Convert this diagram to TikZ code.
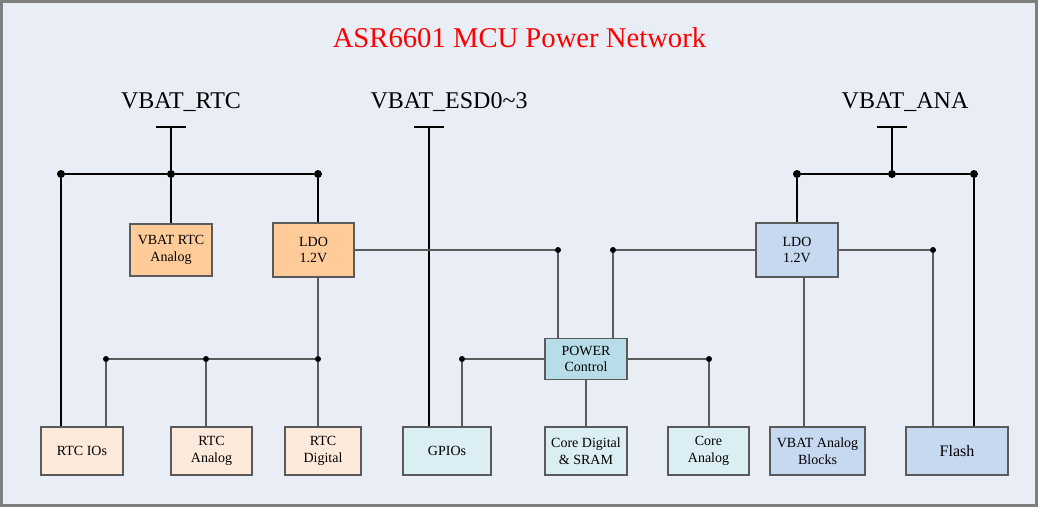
\documentclass[tikz,border=0pt]{standalone}
\usepackage{fontspec}
\setmainfont{Liberation Serif}
\definecolor{bgc}{HTML}{E9EEF6}
\definecolor{orgc}{HTML}{FFCC99}
\definecolor{lorgc}{HTML}{FDEADA}
\definecolor{cyanc}{HTML}{DAEEF3}
\definecolor{pwrc}{HTML}{B7DEE8}
\definecolor{bluec}{HTML}{C6D9F1}
\definecolor{framec}{HTML}{7F7F7F}
\definecolor{wirec}{HTML}{5A5A5A}
\tikzset{
  blk/.style={draw=wirec, line width=0.8pt, inner sep=1pt, align=center,
    font=\fontsize{10.5}{12.5}\selectfont, minimum height=48*0.75pt},
  bus/.style={line width=2.1pt, black},
  wire/.style={line width=0.9pt, wirec},
  bdot/.style={circle, fill, inner sep=0pt, minimum size=6pt},
  sdot/.style={circle, fill, inner sep=0pt, minimum size=4.5pt},
  rail/.style={font=\fontsize{18}{20}\selectfont}
}
\begin{document}
\begin{tikzpicture}[x=0.75pt, y=-0.75pt]
\useasboundingbox (0,0) rectangle (1039,508);
\draw[framec, fill=bgc, line width=1.6pt] (1.5,1.5) rectangle (1036.5,505.5);
\node[text=red, font=\fontsize{21.5}{24}\selectfont] (title) at (519.5,38){ASR6601 MCU Power Network};
\node[rail] (lrtc) at (181,102){VBAT\_RTC};
\node[rail] (lesd) at (449,102){VBAT\_ESD0\textasciitilde3};
\node[rail] (lana) at (905,102){VBAT\_ANA};
\node[blk, fill=orgc, minimum width=82*0.75pt, minimum height=52*0.75pt] (vrtc) at (171,250){VBAT RTC\\Analog};
\node[blk, fill=orgc, minimum width=81*0.75pt, minimum height=54*0.75pt] (ldoa) at (313.5,250){LDO\\1.2V};
\node[blk, fill=bluec, minimum width=82*0.75pt, minimum height=54*0.75pt] (ldob) at (797,250){LDO\\1.2V};
\node[blk, fill=pwrc, minimum width=82*0.75pt, minimum height=41*0.75pt] (pwr) at (586,359){POWER\\Control};
\node[blk, fill=lorgc, minimum width=82*0.75pt] (rtcio) at (82,451){RTC IOs};
\node[blk, fill=lorgc, minimum width=81*0.75pt] (rtcan) at (211.5,451){RTC\\Analog};
\node[blk, fill=lorgc, minimum width=76*0.75pt] (rtcdg) at (323,451){RTC\\Digital};
\node[blk, fill=cyanc, minimum width=88*0.75pt] (gpio) at (447,451){GPIOs};
\node[blk, fill=cyanc, minimum width=82*0.75pt] (cdig) at (586,451){Core Digital\\\& SRAM};
\node[blk, fill=cyanc, minimum width=81*0.75pt] (cana) at (708.5,451){Core\\Analog};
\node[blk, fill=bluec, minimum width=95*0.75pt] (vana) at (817.5,451){VBAT Analog\\Blocks};
\node[blk, fill=bluec, minimum width=102*0.75pt, font=\fontsize{12}{14}\selectfont] (flash) at (957,451){Flash};
\coordinate (trtc) at (171,127);
\coordinate (tesd) at (429,127);
\coordinate (tana) at (892,127);
\draw[bus] (trtc) ++(-15,0) -- ++(30,0);
\draw[bus] (tesd) ++(-15,0) -- ++(30,0);
\draw[bus] (tana) ++(-15,0) -- ++(30,0);
\node[bdot] (ra) at (61,174){};
\node[bdot] (rb) at (171,174){};
\node[bdot] (rc) at (318,174){};
\node[bdot] (aa) at (797,174){};
\node[bdot] (ab) at (892,174){};
\node[bdot] (ac) at (974,174){};
\draw[bus](ra) -- (rb) -- (rc);
\draw[bus](trtc) -- (rb);
\draw[bus](rb) -- (vrtc.north);
\draw[bus](ra) -- (ra |- rtcio.north);
\draw[bus](rc) -- (rc |- ldoa.north);
\draw[bus](tesd) -- (tesd |- gpio.north);
\draw[bus](aa) -- (ab) -- (ac);
\draw[bus](tana) -- (ab);
\draw[bus](aa) -- (ldob.north);
\draw[bus](ac) -- (ac |- flash.north);
\node[sdot] (p1) at (558,250){};
\node[sdot] (p2) at (613,250){};
\node[sdot] (f1) at (933,250){};
\node[sdot] (r1) at (106,359){};
\node[sdot] (r2) at (206,359){};
\node[sdot] (rd) at (318,359){};
\node[sdot] (g1) at (462,359){};
\node[sdot] (c1) at (709,359){};
\coordinate (lv) at (804,300);
\draw[wire](ldoa.east) -- (p1) -- (p1 |- pwr.north);
\draw[wire](ldob.west) -- (p2) -- (p2 |- pwr.north);
\draw[wire](ldob.east) -- (f1) -- (f1 |- flash.north);
\draw[wire](lv |- ldob.south) -- (lv |- vana.north);
\draw[wire](rc |- ldoa.south) -- (rd) -- (rd |- rtcdg.north);
\draw[wire](r1) -- (r2) -- (rd);
\draw[wire](r1) -- (r1 |- rtcio.north);
\draw[wire](r2) -- (r2 |- rtcan.north);
\draw[wire](pwr.west) -- (g1) -- (g1 |- gpio.north);
\draw[wire](pwr.east) -- (c1) -- (c1 |- cana.north);
\draw[wire](pwr.south) -- (cdig.north);
\end{tikzpicture}
\end{document}
